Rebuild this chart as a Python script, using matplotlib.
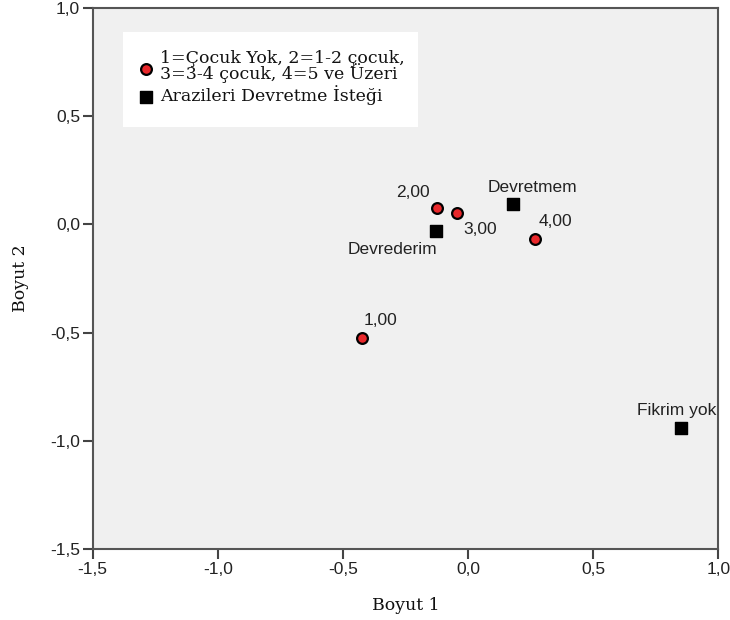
import matplotlib
matplotlib.use("Agg")
import matplotlib.pyplot as plt
from matplotlib.patches import Rectangle
from matplotlib.ticker import FuncFormatter

# cocuk sayisi kategorileri
cocuk_etiket = ["1,00", "2,00", "3,00", "4,00"]
cocuk_x = [-0.424, -0.124, -0.044, 0.268]
cocuk_y = [-0.525, 0.076, 0.053, -0.067]

# arazi devretme istegi kategorileri
istek_etiket = ["Devrederim", "Devretmem", "Fikrim yok"]
istek_x = [-0.128, 0.180, 0.852]
istek_y = [-0.030, 0.094, -0.940]

ticks = [-1.5, -1.0, -0.5, 0.0, 0.5, 1.0]

fig = plt.figure(figsize=(7.3, 6.2), dpi=100)
ax = fig.add_axes([0.127, 0.1145, 0.857, 0.8725])
ax.set_facecolor("#f0f0f0")

ax.scatter(cocuk_x, cocuk_y, s=60, c="#e8282b", edgecolors="black",
           linewidths=1.6, zorder=3,
           label="1=Çocuk Yok, 2=1-2 çocuk,\n3=3-4 çocuk, 4=5 ve Üzeri")
ax.scatter(istek_x, istek_y, s=70, c="black", marker="s", zorder=3,
           label="Arazileri Devretme İsteği")

# etiketlerin nokta etrafindaki konumu (piksel)
cocuk_ofs = [(19, 18), (-24, 15), (23, -17), (20, 17)]
istek_ofs = [(-44, -19), (19, 17), (-5, 17)]

lab_font = dict(family="Liberation Sans", fontsize=12.5, color="#222222")
for lab, x, y, o in zip(cocuk_etiket, cocuk_x, cocuk_y, cocuk_ofs):
    ax.annotate(lab, (x, y), xytext=o, textcoords="offset pixels",
                ha="center", va="center", annotation_clip=False, **lab_font)
for lab, x, y, o in zip(istek_etiket, istek_x, istek_y, istek_ofs):
    t = ax.annotate(lab, (x, y), xytext=o, textcoords="offset pixels",
                    ha="center", va="center", **lab_font)
    t.set_clip_on(True)

ax.set_xlim(-1.5, 1.0)
ax.set_ylim(-1.5, 1.0)
ax.set_xticks(ticks)
ax.set_yticks(ticks)
fmt = FuncFormatter(lambda v, p: ("%.1f" % v).replace(".", ","))
ax.xaxis.set_major_formatter(fmt)
ax.yaxis.set_major_formatter(fmt)
ax.tick_params(direction="out", length=7.5, width=1.5, color="#444444",
               labelsize=12.5, labelcolor="#222222")
ax.tick_params(axis="y", pad=1.5)
ax.tick_params(axis="x", pad=2)
for lbl in ax.get_xticklabels() + ax.get_yticklabels():
    lbl.set_family("Liberation Sans")
for sp in ax.spines.values():
    sp.set_color("#555555")
    sp.set_linewidth(1.5)

ax.set_xlabel("Boyut 1", family="DejaVu Serif", fontsize=12.5,
              color="#111111", labelpad=14)
ax.set_ylabel("Boyut 2", family="DejaVu Serif", fontsize=12.5,
              color="#111111", labelpad=15)

# lejant kutusu
ax.add_patch(Rectangle((0.048, 0.78), 0.472, 0.176, transform=ax.transAxes,
                       facecolor="white", edgecolor="none", zorder=4))
leg = ax.legend(loc="upper left", bbox_to_anchor=(0.072, 0.922),
                borderaxespad=0, prop=dict(family="DejaVu Serif", size=12.5),
                frameon=False, handletextpad=0.3,
                handlelength=1.0, labelspacing=0.12, borderpad=0)
leg.set_zorder(5)
for t in leg.get_texts():
    t.set_linespacing(0.76)
    t.set_color("#111111")

fig.savefig("out.png", dpi=100, facecolor="white")
